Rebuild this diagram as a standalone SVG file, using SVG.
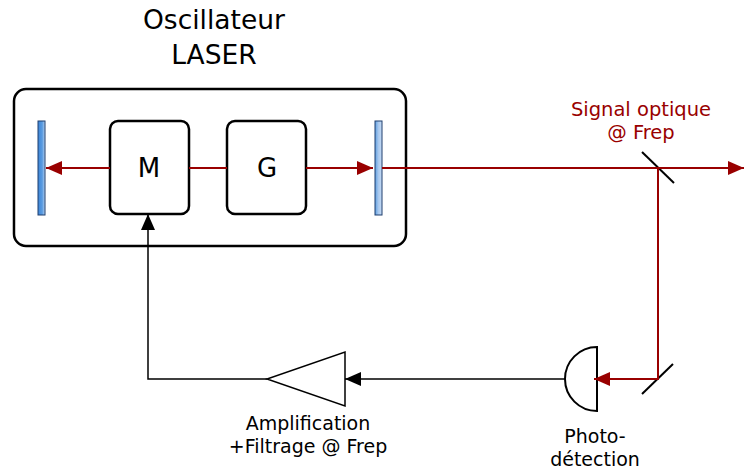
<svg xmlns="http://www.w3.org/2000/svg" width="744" height="470" viewBox="0 0 744 470">
<defs>
<style>
.t{font-family:"DejaVu Sans",Verdana,sans-serif;text-anchor:middle}
.box{fill:#fff;stroke:#000;stroke-width:2.5}
.red{fill:none;stroke:#990000;stroke-width:2}
.blk{fill:none;stroke:#000;stroke-width:1.5}
.mir{stroke:#1f3f6f;stroke-width:1}
</style>
<linearGradient id="gL" x1="0" y1="0" x2="1" y2="0">
<stop offset="0" stop-color="#3d86d8"/><stop offset="0.6" stop-color="#5a9be0"/><stop offset="1" stop-color="#b9d4f2"/>
</linearGradient>
<linearGradient id="gR" x1="0" y1="0" x2="1" y2="0">
<stop offset="0" stop-color="#5f9fe0"/><stop offset="0.5" stop-color="#a8c8ee"/><stop offset="1" stop-color="#c9ddf5"/>
</linearGradient>
<marker id="arR" viewBox="0 0 16 14" refX="16" refY="7" markerWidth="16" markerHeight="14" markerUnits="userSpaceOnUse" orient="auto">
<path d="M0,0 L16,7 L0,14 z" fill="#990000"/>
</marker>
<marker id="arB" viewBox="0 0 16 14" refX="16" refY="7" markerWidth="16" markerHeight="14" markerUnits="userSpaceOnUse" orient="auto">
<path d="M0,0 L16,7 L0,14 z" fill="#000"/>
</marker>
</defs>
<rect width="744" height="470" fill="#fff"/>

<g id="title">
<text class="t" x="214" y="29" font-size="26.5">Oscillateur</text>
<text class="t" x="214" y="64" font-size="26.5">LASER</text>
</g>

<g id="oscillator">
<rect class="box" x="14" y="89" width="392" height="157" rx="12"/>
</g>

<g id="mirrorLeft">
<rect class="mir" x="38" y="121" width="7" height="94" fill="url(#gL)"/>
</g>
<g id="mirrorRight">
<rect class="mir" x="375" y="121" width="7" height="94" fill="url(#gR)"/>
</g>

<g id="M">
<rect class="box" x="110" y="121" width="79" height="93" rx="8"/>
<text class="t" x="149" y="177" font-size="26">M</text>
</g>
<g id="G">
<rect class="box" x="227" y="121" width="79" height="93" rx="8"/>
<text class="t" x="267" y="177" font-size="26">G</text>
</g>

<g id="beamsplitter1">
<line x1="642" y1="152" x2="674" y2="183" stroke="#000" stroke-width="2"/>
</g>
<g id="beamsplitter2">
<line x1="642" y1="394" x2="673" y2="364" stroke="#000" stroke-width="2"/>
</g>

<g id="photodetector">
<path d="M597,347 L597,411 A32,32 0 0 1 597,347 Z" fill="#fff" stroke="#000" stroke-width="2"/>
<text class="t" x="595" y="443" font-size="19">Photo-</text>
<text class="t" x="595" y="466" font-size="19">détection</text>
</g>

<g id="amplifier">
<path d="M345,352 L345,406 L267,379 Z" fill="#fff" stroke="#000" stroke-width="1.5"/>
<text class="t" x="308" y="430" font-size="19">Amplification</text>
<text class="t" x="308" y="453" font-size="19">+Filtrage @ Frep</text>
</g>

<g id="signalLabel">
<text class="t" x="641" y="116" font-size="19.5" fill="#990000">Signal optique</text>
<text class="t" x="641" y="139" font-size="19.5" fill="#990000">@ Frep</text>
</g>

<g id="connectors">
<line class="red" x1="110" y1="168" x2="46" y2="168" marker-end="url(#arR)"/>
<line class="red" x1="189" y1="168" x2="227" y2="168"/>
<line class="red" x1="306" y1="168" x2="373" y2="168" marker-end="url(#arR)"/>
<line class="red" x1="382" y1="168" x2="744" y2="168" marker-end="url(#arR)"/>
<polyline class="red" points="658,168 658,379 594,379" marker-end="url(#arR)"/>
<line class="blk" x1="565" y1="379" x2="345" y2="379" marker-end="url(#arB)"/>
<polyline class="blk" points="267,379 148,379 148,214" marker-end="url(#arB)"/>
</g>
</svg>
